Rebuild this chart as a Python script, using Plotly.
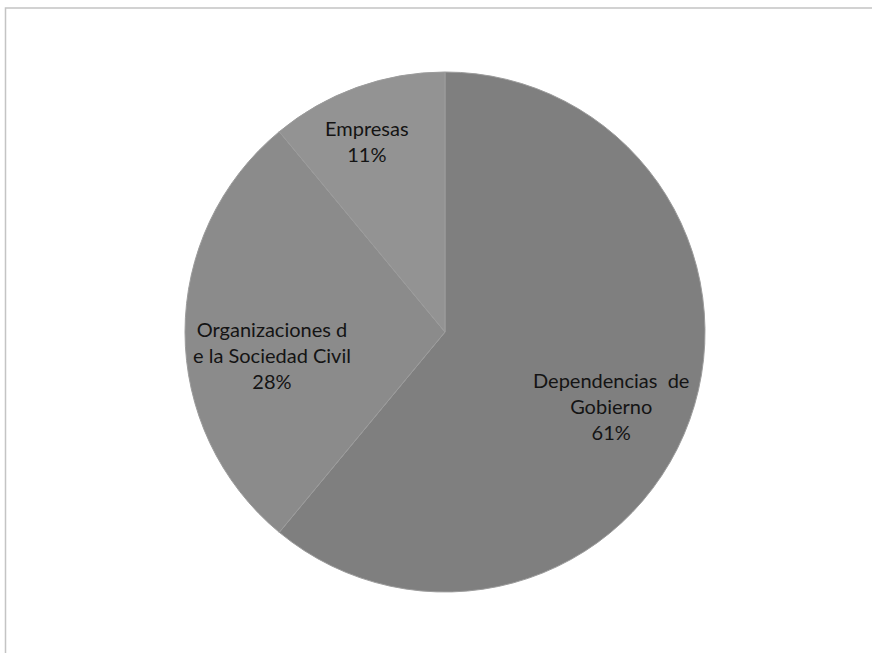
import plotly.graph_objects as go

labels = ["Dependencias  de<br>Gobierno", "Organizaciones d<br>e la Sociedad Civil", "Empresas"]
values = [61, 28, 11]
colors = ["#7f7f7f", "#8b8b8b", "#939393"]

# label anchor positions (paper coords) for each slice label
label_x = [611 / 872, 272 / 872, 367 / 872]
label_y = [1 - 406 / 653, 1 - 355 / 653, 1 - 141 / 653]

fig = go.Figure()
fig.add_trace(go.Pie(
    labels=labels,
    values=values,
    sort=False,
    direction="clockwise",
    rotation=0,
    marker=dict(colors=colors, line=dict(color="#9c9c9c", width=1)),
    textinfo="none",
    hoverinfo="label+percent",
    showlegend=False,
    domain=dict(x=[(445 - 261) / 872, (445 + 261) / 872], y=[1 - 592 / 653, 1 - 72 / 653]),
))

total = sum(values)
for lab, v, x, y in zip(labels, values, label_x, label_y):
    fig.add_annotation(
        x=x, y=y, xref="paper", yref="paper",
        text=f"{lab}<br>{round(100 * v / total)}%",
        showarrow=False, align="center",
        font=dict(family="Lato", size=20, color="#141414"),
        xanchor="center", yanchor="middle",
    )

# outer frame (partially cropped, like the reference)
fig.add_shape(type="rect", xref="paper", yref="paper",
              x0=5.5 / 872, x1=1.2, y0=-0.2, y1=1 - 8 / 653,
              line=dict(color="#c4c4c4", width=1.5), fillcolor="rgba(0,0,0,0)")

fig.update_layout(
    width=872, height=653,
    margin=dict(l=0, r=0, t=0, b=0),
    paper_bgcolor="white", plot_bgcolor="white",
)

fig.write_html("out.html", config={"displayModeBar": False})

with open("out.html", encoding="utf-8") as f:
    html = f.read()
html = html.replace("<body>", '<body style="margin:0;overflow:hidden">', 1)
with open("out.html", "w", encoding="utf-8") as f:
    f.write(html)
